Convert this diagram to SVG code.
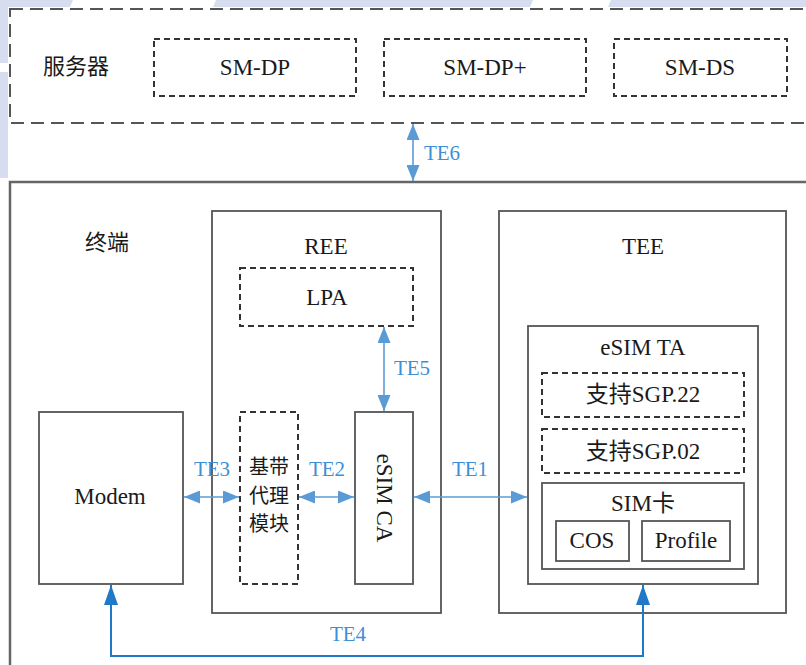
<svg xmlns="http://www.w3.org/2000/svg" width="806" height="665" viewBox="0 0 806 665">
<defs>
<style>
.box{fill:#fff;stroke:#555;stroke-width:1.8}
.dbox{fill:#fff;stroke:#333;stroke-width:2;stroke-dasharray:6 4}
.wm{fill:#d6ddee}
.la{fill:none;stroke:#5b9bd5;stroke-width:1.6;marker-start:url(#ha);marker-end:url(#ha)}
.da{fill:none;stroke:#1f78c8;stroke-width:2;marker-start:url(#hb);marker-end:url(#hb)}
</style>
<marker id="ha" markerUnits="userSpaceOnUse" markerWidth="16" markerHeight="13" refX="16" refY="6.5" orient="auto-start-reverse" viewBox="0 0 16 13"><path d="M0,0 L16,6.5 L0,13 z" fill="#5b9bd5"/></marker>
<marker id="hb" markerUnits="userSpaceOnUse" markerWidth="20" markerHeight="14" refX="20" refY="7" orient="auto-start-reverse" viewBox="0 0 20 14"><path d="M0,0 L20,7 L0,14 z" fill="#1f78c8"/></marker>
</defs>
<rect width="806" height="665" fill="#fff"/>
<g id="watermark">
<polygon class="wm" points="0,0 73,0 70,7 0,7"/>
<polygon class="wm" points="216,0 533,0 530,7 213,7"/>
<polygon class="wm" points="611,0 806,0 806,7 608,7"/>
<rect class="wm" x="0" y="7" width="8" height="56"/>
<rect class="wm" x="0" y="72" width="8" height="106"/>
</g>
<g id="server">
<rect x="10" y="9" width="820" height="114" fill="none" stroke="#555" stroke-width="2" stroke-dasharray="13 7"/>
<text x="76" y="74" font-family="Noto Sans CJK SC, sans-serif" font-size="22" fill="#1a1a1a" text-anchor="middle">服务器</text>
</g>
<g id="smdp"><rect class="dbox" x="154" y="39" width="202" height="57"/></g>
<g id="smdpplus"><rect class="dbox" x="384" y="39" width="202" height="57"/></g>
<g id="smds"><rect class="dbox" x="614" y="39" width="173" height="57"/></g>
<g id="terminal">
<rect x="10" y="182" width="820" height="500" fill="none" stroke="#666" stroke-width="2.5"/>
<text x="107" y="250" font-family="Noto Sans CJK SC, sans-serif" font-size="22" fill="#1a1a1a" text-anchor="middle">终端</text>
</g>
<g id="ree"><rect class="box" x="212" y="211" width="229" height="402"/></g>
<g id="lpa"><rect class="dbox" x="240" y="268" width="173" height="58"/></g>
<g id="baseband"><rect class="dbox" x="240" y="412" width="58" height="172"/>
<g font-family="Noto Sans CJK SC, sans-serif" font-size="20" fill="#1a1a1a" text-anchor="middle"><text x="269" y="474">基带</text><text x="269" y="503">代理</text><text x="269" y="531">模块</text></g></g>
<g id="esimca"><rect class="box" x="355" y="412" width="58" height="172"/></g>
<g id="modem"><rect class="box" x="39" y="412" width="144" height="172"/></g>
<g id="tee"><rect class="box" x="499" y="211" width="287" height="402"/></g>
<g id="esimta"><rect class="box" x="528" y="326" width="230" height="258"/></g>
<g id="sgp22"><rect class="dbox" x="542" y="373" width="202" height="44"/></g>
<g id="sgp02"><rect class="dbox" x="542" y="429" width="202" height="44"/></g>
<g id="simcard"><rect class="box" x="542" y="483" width="202" height="86"/></g>
<g id="cos"><rect class="box" x="556" y="521" width="73" height="40"/></g>
<g id="profile"><rect class="box" x="642" y="521" width="88" height="40"/></g>
<g id="labels" font-family="Liberation Serif, Noto Sans CJK SC, serif" font-size="23" fill="#1a1a1a" text-anchor="middle" transform="rotate(0.001)">
<text x="255" y="75">SM-DP</text>
<text x="485" y="75">SM-DP+</text>
<text x="700" y="75">SM-DS</text>
<text x="326" y="254">REE</text>
<text x="327" y="305">LPA</text>
<text transform="translate(377,498) rotate(90)" x="0" y="0">eSIM CA</text>
<text x="110" y="504">Modem</text>
<text x="643" y="254">TEE</text>
<text x="643" y="355">eSIM TA</text>
<text x="643" y="402">支持SGP.22</text>
<text x="643" y="459">支持SGP.02</text>
<text x="643" y="511">SIM卡</text>
<text x="592" y="548">COS</text>
<text x="686" y="548">Profile</text>
</g>
<g id="connectors">
<line class="la" x1="413" y1="124" x2="413" y2="181"/>
<line class="la" x1="384" y1="327" x2="384" y2="411"/>
<line class="la" x1="184" y1="497" x2="239" y2="497"/>
<line class="la" x1="299" y1="497" x2="354" y2="497"/>
<line class="la" x1="414" y1="497" x2="527" y2="497"/>
<path class="da" d="M111,585 L111,656 L643,656 L643,585"/>
<g font-family="Liberation Serif, serif" font-size="21" fill="#3d8fd6" text-anchor="middle" transform="rotate(0.001)">
<text x="442" y="160">TE6</text>
<text x="412" y="375">TE5</text>
<text x="212" y="476">TE3</text>
<text x="327" y="476">TE2</text>
<text x="470" y="476">TE1</text>
<text x="348" y="641">TE4</text>
</g>
</g>
</svg>
